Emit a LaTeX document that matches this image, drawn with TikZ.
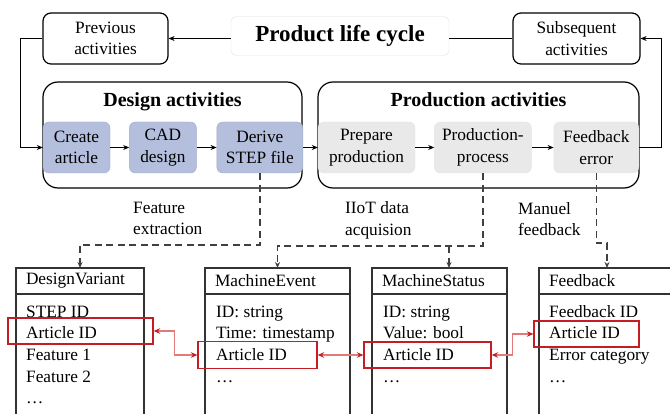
\documentclass[tikz,border=0pt]{standalone}
\usepackage{fontspec}
\setmainfont{Liberation Serif}
\usetikzlibrary{arrows.meta, positioning}

\definecolor{designblue}{HTML}{B4BFDD}
\definecolor{prodgray}{HTML}{E9E9E9}
\definecolor{keyred}{HTML}{C41E24}
\definecolor{linkred}{HTML}{E27A7A}
\definecolor{flowgray}{HTML}{404040}

\begin{document}
\begin{tikzpicture}[x=1pt, y=-1pt, >={Stealth[length=6pt, width=5pt]},
    every node/.style={inner sep=0pt, font=\fontsize{17.3}{21.5}\selectfont},
    sidebox/.style={draw, line width=1.2pt, rounded corners=8pt,
      minimum width=125, minimum height=51, align=center},
    titlebox/.style={draw=black!12, fill=white, rounded corners=5pt,
      minimum width=218, minimum height=39,
      font=\fontsize{23}{27}\selectfont\bfseries},
    groupbox/.style={draw, line width=1.2pt, rounded corners=15pt, minimum height=106},
    grouptitle/.style={anchor=base, font=\fontsize{20}{24}\selectfont\bfseries},
    stepbox/.style={rounded corners=6pt, minimum height=51, align=center},
    designstep/.style={stepbox, fill=designblue, draw=designblue!90!black},
    prodstep/.style={stepbox, fill=prodgray, draw=black!10},
    flow/.style={->, draw=flowgray, line width=1.5pt, dash pattern=on 7pt off 4.5pt},
    tabhead/.style={draw=black!80, line width=1.3pt, anchor=north west, outer sep=0pt,
      minimum height=26, inner xsep=10pt, align=left, text width=#1},
    tabbody/.style={draw=black!80, line width=1.3pt, outer sep=0pt,
      minimum width=#1, minimum height=150},
    attr/.style={anchor=base west},
    keybox/.style={draw=keyred, line width=1.3pt},
    keylink/.style={<->, draw=linkred, line width=1.1pt,
      >={Stealth[length=6.5pt, width=5.5pt, color=keyred]}}]

  \useasboundingbox (0,0) rectangle (670,414);
  \clip (0,0) rectangle (670,414);

  % life cycle row
  \node[sidebox]  (prev) at (105.5,38.5) {Previous\\activities};
  \node[titlebox] (plc)  at (340,36)     {Product life cycle};
  \node[sidebox, minimum width=127] (subs) at (576.5,38.5) {Subsequent\\activities};

  \draw[->, line width=1pt] (plc.west |- prev.east) -- (prev.east);
  \draw[line width=1pt] (plc.east |- subs.west) -- (subs.west);

  % activity groups
  \node[groupbox, minimum width=259] (design) at (172.5,135) {};
  \node[groupbox, minimum width=321] (prod)   at (478.5,135) {};
  \node[grouptitle] (designtitle) at (172.5,107) {Design activities};
  \node[grouptitle] (prodtitle)   at (478.5,107) {Production activities};

  \node[designstep, minimum width=67] (create) at (76.5,147.5) {Create\\article};
  \node[designstep, minimum width=67, right=19pt of create] (cad) {CAD\\design};
  \node[designstep, minimum width=86, right=20pt of cad] (derive) {Derive\\STEP file};

  \node[prodstep, minimum width=97] (prepare) at (366.5,147.5) {Prepare\\production};
  \node[prodstep, minimum width=97, right=19pt of prepare] (procproc) {Production-\\process};
  \node[prodstep, minimum width=85, right=22pt of procproc] (feederr) {Feedback\\error};

  \path[->, line width=0.9pt]
        (create)   edge (cad)
        (cad)      edge (derive)
        (derive)   edge (prepare)
        (prepare)  edge (procproc)
        (procproc) edge (feederr);

  \draw[->, line width=1pt] (prev.west) -- ++(-22,0) |- (create.west);
  \draw[->, line width=1pt] (feederr.east) -- ++(22,0) |- (subs.east);

  % data tables
  \node[tabhead=108] (dvhead) at (16,268) {DesignVariant};
  \node[tabbody=128, below=0pt of dvhead] (dvbody) {};
  \node[tabhead=125] (mehead) at (205,268) {MachineEvent};
  \node[tabbody=145, below=0pt of mehead] (mebody) {};
  \node[tabhead=115] (mshead) at (372,268) {MachineStatus};
  \node[tabbody=135, below=0pt of mshead] (msbody) {};
  \node[tabhead=120] (fbhead) at (539,268) {Feedback};
  \node[tabbody=140, below=0pt of fbhead] (fbbody) {};

  \foreach \field [count=\i] in {STEP ID, Article ID, Feature 1, Feature 2, \dots}
    \node[attr] (dv\i) at (26,296+21.5*\i) {\field};
  \foreach \field [count=\i] in {ID: string, Time: timestamp, Article ID, \dots}
    \node[attr] (me\i) at (216,296+21.5*\i) {\field};
  \foreach \field [count=\i] in {ID: string, Value: bool, Article ID, \dots}
    \node[attr] (ms\i) at (383,296+21.5*\i) {\field};
  \foreach \field [count=\i] in {Feedback ID, Article ID, Error category, \dots}
    \node[attr] (fb\i) at (549,296+21.5*\i) {\field};

  % data flows
  \node[anchor=north west, align=left] (lblfeat) at (133,201.5) {Feature\\extraction};
  \node[anchor=north west, align=left] (lbliiot) at (345,201.5) {IIoT data\\acquision};
  \node[anchor=north west, align=left] (lblman)  at (518,202)   {Manuel\\feedback};

  \coordinate (msin) at (449,268);
  \coordinate (fbin) at (607,268);

  \draw[flow] (derive.south) -- ++(0,72) -| (dvhead.north);
  \draw[flow] (procproc.south) -- ++(0,73) coordinate (iiot) -| (mehead.north);
  \draw[flow] (msin |- iiot) -- (msin);
  \draw[flow] (feederr.south) -- ++(0,70) -| (fbin);

  % key links
  \node[keybox, minimum width=145, minimum height=26] (dvkey) at (80.5,331) {};
  \node[keybox, minimum width=119, minimum height=27] (mekey) at (257.5,355) {};
  \node[keybox, minimum width=127, minimum height=26] (mskey) at (427.5,355) {};
  \node[keybox, minimum width=105, minimum height=26] (fbkey) at (586.5,334) {};

  \draw[keylink] (dvkey.east) -- ++(21,0) |- (mekey.west);
  \draw[keylink] (mekey.east) -- (mskey.west);
  \draw[keylink] (mskey.east) -- ++(21,0) |- (fbkey.west);

\end{tikzpicture}
\end{document}
